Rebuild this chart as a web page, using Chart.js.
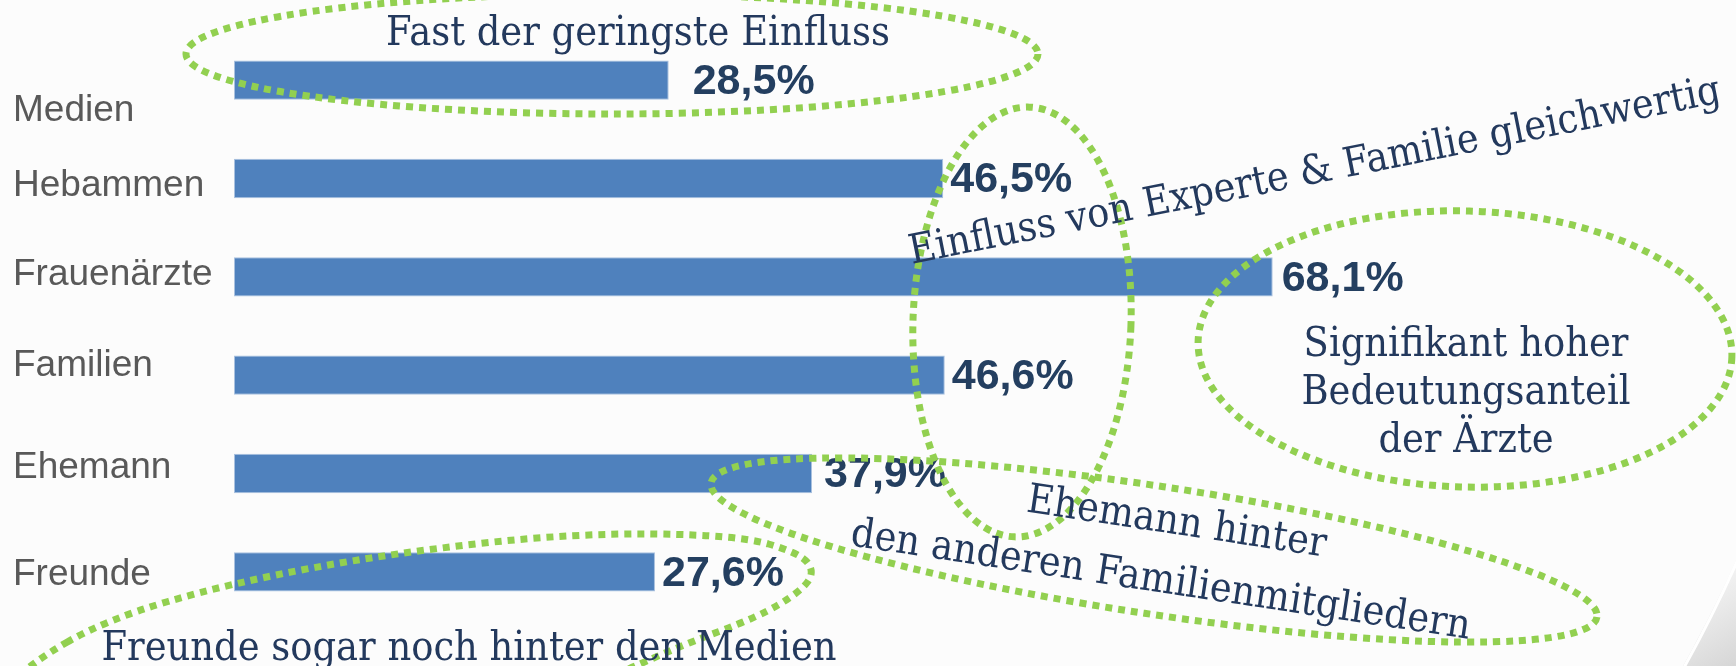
<!DOCTYPE html>
<html>
<head>
<meta charset="utf-8">
<script src="https://cdn.jsdelivr.net/npm/chart.js@4.4.1/dist/chart.umd.min.js"></script>
<style>
  html, body { margin: 0; padding: 0; background: #fcfcfc; }
  #einflussChart { display: block; }
</style>
</head>
<body>
<canvas id="einflussChart" width="1736" height="666"></canvas>
<script>
// Einfluss der Informationsquellen, Anteil in %
const categories = ['Medien', 'Hebammen', 'Frauenärzte', 'Familien', 'Ehemann', 'Freunde'];
const shares = [28.5, 46.5, 68.1, 46.6, 37.9, 27.6];

// small nudges so labels sit where they sit on the slide (px)
const labelShift = [31, 7, -2, -9, -6, 3];
const valueGap = [24, 7, 9, 7, 12, 7];

// Kommentare auf der Folie (Text, Mittelpunkt, Drehung)
const notes = [
    { lines: ['Fast der geringste Einfluss'], x: 638, y: 45, angle: 0 },
    { lines: ['Einfluss von Experte & Familie gleichwertig'], x: 1317, y: 183, angle: -0.197 },
    { lines: ['Signifikant hoher', 'Bedeutungsanteil', 'der Ärzte'], x: 1466, y: 356, angle: 0 },
    { lines: ['Ehemann hinter'], x: 1175, y: 534, angle: 0.15 },
    { lines: ['den anderen Familienmitgliedern'], x: 1159, y: 592, angle: 0.15 },
    { lines: ['Freunde sogar noch hinter den Medien'], x: 469, y: 660, angle: 0 }
];

// gruene gepunktete Lassos um die Kommentare
const lassos = [
    { x: 612, y: 54, rx: 426, ry: 60, rot: 0 },
    { x: 1022, y: 322, rx: 109, ry: 215, rot: 0.035 },
    { x: 1465, y: 349, rx: 267, ry: 138, rot: 0.03 },
    { x: 1154, y: 550, rx: 448, ry: 64, rot: 0.15 }
];
// the one round "Freunde" is a free hand shape, not an ellipse
const freehand = [[28, 665], [105, 620], [231, 583], [393, 553], [575, 533], [737, 535],
    [800, 553], [815, 572], [800, 592], [758, 617], [680, 646], [600, 682],
    [400, 745], [150, 745], [-10, 705]];

function formatShare(v)
{
    return v.toFixed(1).replace('.', ',') + '%';
}

// background of the slide incl. the shadow of the round frame in the corner
const slideBackground = {
    id: 'slideBackground',
    beforeDraw(chart) {
        const ctx = chart.ctx;
        const w = chart.width, h = chart.height;
        ctx.save();
        ctx.fillStyle = '#fcfcfc';
        ctx.fillRect(0, 0, w, h);
        const cx = 509.5, cy = 13, r = 1343;
        ctx.beginPath();
        ctx.rect(0, 0, w, h);
        ctx.arc(cx, cy, r, 0, Math.PI * 2, true);
        const grad = ctx.createLinearGradient(1690, 590, 1736, 666);
        grad.addColorStop(0, '#f4f4f4');
        grad.addColorStop(1, '#d6d6d6');
        ctx.fillStyle = grad;
        ctx.fill('evenodd');
        ctx.beginPath();
        ctx.arc(cx, cy, r + 1.5, 0, Math.PI * 2);
        ctx.strokeStyle = '#ffffff';
        ctx.lineWidth = 3;
        ctx.stroke();
        ctx.restore();
    }
};

// category names and value labels
const barLabels = {
    id: 'barLabels',
    afterDatasetsDraw(chart) {
        const ctx = chart.ctx;
        const yScale = chart.scales.y;
        const meta = chart.getDatasetMeta(0);
        ctx.save();
        ctx.textBaseline = 'middle';
        ctx.textAlign = 'left';
        ctx.font = '37px "Liberation Sans", Arial, sans-serif';
        ctx.fillStyle = '#595959';
        categories.forEach(function(name, i) {
            ctx.fillText(name, 13, yScale.getPixelForValue(i) + labelShift[i]);
        });
        ctx.font = 'bold 43px "Liberation Sans", Arial, sans-serif';
        ctx.fillStyle = '#243f60';
        meta.data.forEach(function(bar, i) {
            ctx.fillText(formatShare(shares[i]), bar.x + valueGap[i], bar.y + 2);
        });
        ctx.restore();
    }
};

// dotted lassos and the serif comments on top
const comments = {
    id: 'comments',
    afterDraw(chart) {
        const ctx = chart.ctx;
        ctx.save();
        ctx.strokeStyle = '#92d050';
        ctx.lineWidth = 7;
        ctx.setLineDash([7, 6]);
        lassos.forEach(function(l) {
            ctx.beginPath();
            ctx.ellipse(l.x, l.y, l.rx, l.ry, l.rot, 0, Math.PI * 2);
            ctx.stroke();
        });
        // smooth closed curve through the midpoints
        const n = freehand.length;
        ctx.beginPath();
        for (let i = 0; i <= n; i++) {
            const p = freehand[i % n];
            const q = freehand[(i + 1) % n];
            const mx = (p[0] + q[0]) / 2, my = (p[1] + q[1]) / 2;
            if (i === 0) ctx.moveTo(mx, my);
            else ctx.quadraticCurveTo(p[0], p[1], mx, my);
        }
        ctx.stroke();
        ctx.restore();

        ctx.save();
        ctx.font = '41px "DejaVu Serif", Georgia, serif';
        ctx.fillStyle = '#23395d';
        ctx.textAlign = 'center';
        ctx.textBaseline = 'alphabetic';
        notes.forEach(function(note) {
            ctx.save();
            ctx.translate(note.x, note.y);
            ctx.rotate(note.angle);
            ctx.scale(0.9, 1);
            note.lines.forEach(function(line, j) {
                ctx.fillText(line, 0, j * 48);
            });
            ctx.restore();
        });
        ctx.restore();
    }
};

const ctx = document.getElementById('einflussChart').getContext('2d');
const myChart = new Chart(ctx, {
    type: 'bar',
    data: {
        labels: categories,
        datasets: [{
            data: shares,
            backgroundColor: '#4f81bd',
            borderColor: '#a9c1df',
            borderWidth: 1,
            borderSkipped: false,
            barPercentage: 0.4,
            categoryPercentage: 1
        }]
    },
    options: {
        indexAxis: 'y',
        responsive: false,
        animation: false,
        devicePixelRatio: 1,
        layout: {
            padding: { left: 13, top: 31, bottom: 45, right: 53 }
        },
        plugins: {
            legend: { display: false },
            tooltip: { enabled: false }
        },
        scales: {
            x: {
                display: false,
                min: 0,
                max: 95
            },
            y: {
                grid: { display: false, drawTicks: false },
                border: { display: false },
                afterFit: function(scale) {
                    scale.width = 221;
                },
                ticks: { display: false }
            }
        }
    },
    plugins: [slideBackground, barLabels, comments]
});
</script>
</body>
</html>
